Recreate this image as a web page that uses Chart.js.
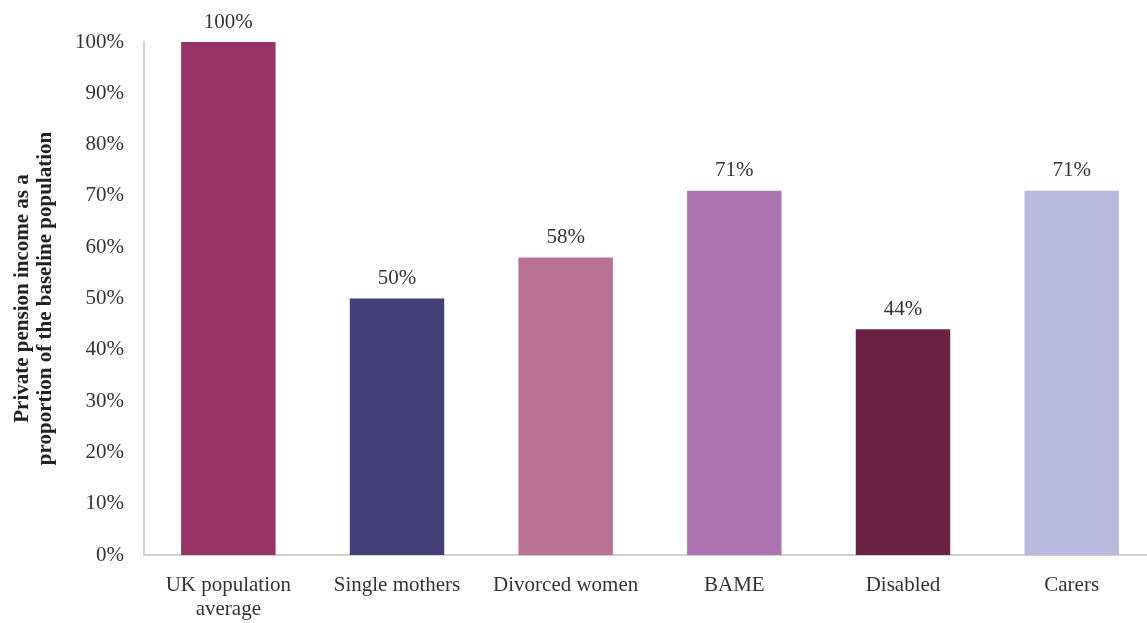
<!DOCTYPE html>
<html>
<head>
<meta charset="utf-8">
<script src="https://cdn.jsdelivr.net/npm/chart.js@4/dist/chart.umd.min.js"></script>
<style>
  html, body { margin: 0; padding: 0; background: #fff; overflow: hidden; }
  #wrap { width: 1160px; height: 623px; }
</style>
</head>
<body>
<div id="wrap"><canvas id="pensionChart"></canvas></div>
<script>
const groups = [["UK population", "average"], "Single mothers", "Divorced women", "BAME", "Disabled", "Carers"];
const incomeShare = [100, 50, 58, 71, 44, 71];
const barColors = ["#983366", "#443F78", "#B87094", "#AB74B0", "#6A2346", "#B8B9DD"];
const axisTitle = ["Private pension income as a", "proportion of the baseline population"];

const serif = "'Liberation Serif', 'DejaVu Serif', serif";

// writes each bar's value just above it
const valueLabels = {
    id: 'valueLabels',
    afterDatasetsDraw(chart) {
        const ctx = chart.ctx;
        const meta = chart.getDatasetMeta(0);
        ctx.save();
        ctx.font = "21px " + serif;
        ctx.fillStyle = "#333";
        ctx.textAlign = "center";
        ctx.textBaseline = "middle";
        meta.data.forEach((bar, i) => {
            ctx.fillText(incomeShare[i] + "%", bar.x, bar.y - 20);
        });
        ctx.restore();
    }
};

new Chart(document.getElementById('pensionChart'), {
    type: 'bar',
    data: {
        labels: groups,
        datasets: [{
            data: incomeShare,
            backgroundColor: barColors,
            barPercentage: 0.56,
            categoryPercentage: 1
        }]
    },
    options: {
        responsive: true,
        maintainAspectRatio: false,
        animation: false,
        layout: { padding: { top: 42, right: 4, left: 0, bottom: 0 } },
        plugins: {
            legend: { display: false },
            tooltip: { enabled: false }
        },
        scales: {
            x: {
                grid: { display: false },
                border: { color: "#d0d0d0", width: 2 },
                ticks: {
                    color: "#333",
                    font: { family: serif, size: 21, lineHeight: 1.15 },
                    padding: 10,
                    maxRotation: 0,
                    autoSkip: false
                },
                afterFit(scale) { scale.height = 68; }
            },
            y: {
                min: 0,
                max: 100,
                grid: { display: false },
                border: { color: "#d0d0d0", width: 2 },
                ticks: {
                    stepSize: 10,
                    color: "#333",
                    font: { family: serif, size: 21 },
                    padding: 12,
                    callback: v => v + "%"
                },
                title: {
                    display: true,
                    text: axisTitle,
                    color: "#222",
                    font: { family: serif, size: 21, weight: 'bold', lineHeight: 1.1 },
                    padding: { top: 11, bottom: 0 }
                },
                afterFit(scale) { scale.width = 144; }
            }
        }
    },
    plugins: [valueLabels]
});
</script>
</body>
</html>
